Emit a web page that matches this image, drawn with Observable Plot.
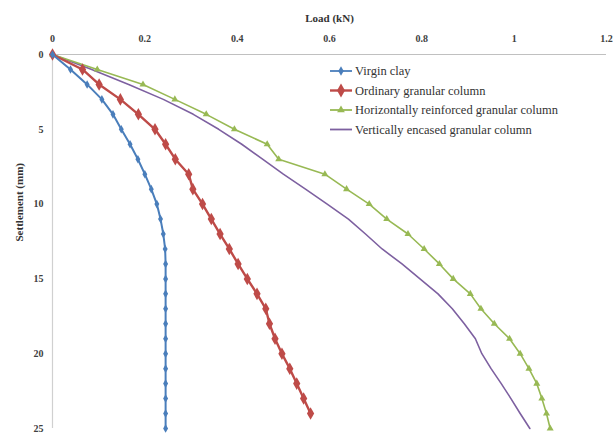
<!DOCTYPE html>
<html><head><meta charset="utf-8">
<script src="https://cdn.jsdelivr.net/npm/d3@7"></script>
<script src="https://cdn.jsdelivr.net/npm/@observablehq/plot@0.6"></script>
<style>body{margin:0;background:#fff} #chart{width:614px;height:434px}</style>
</head><body><div id="chart"></div>
<script>
const seriesNames = ["Virgin clay","Ordinary granular column","Horizontally reinforced granular column","Vertically encased granular column"];
const colors = ["#4a7ebb","#be4b48","#98b954","#7d60a0"];
const settlementA = [0,1,2,3,4,5,6,7,8,9,10,11,12,13,14,15,16,17,18,19,20,21,22,23,24,25];
const settlementB = [0,1,2,3,4,5,6,7,8,9,10,11,12,13,14,15,16,17,18,19,20,21,22,23,24];
const loadVirgin = [0,0.039,0.075,0.107,0.131,0.149,0.168,0.185,0.2,0.214,0.226,0.234,0.24,0.244,0.245,0.245,0.245,0.245,0.245,0.245,0.245,0.245,0.245,0.245,0.245,0.245];
const loadOrdinary = [0,0.065,0.101,0.147,0.186,0.222,0.245,0.266,0.295,0.304,0.325,0.344,0.363,0.383,0.402,0.422,0.443,0.462,0.47,0.482,0.497,0.514,0.529,0.544,0.559];
const loadHorizontal = [0,0.097,0.196,0.265,0.333,0.394,0.465,0.49,0.59,0.637,0.686,0.724,0.77,0.805,0.838,0.868,0.905,0.928,0.957,0.99,1.013,1.032,1.049,1.06,1.07,1.078];
const loadVertical = [0,0.085,0.165,0.24,0.305,0.36,0.41,0.455,0.5,0.548,0.595,0.641,0.678,0.714,0.757,0.796,0.835,0.866,0.892,0.916,0.93,0.95,0.972,0.993,1.013,1.034];
const xTicks = [0,0.2,0.4,0.6,0.8,1,1.2];
const xTickLabels = ["0","0.2","0.4","0.6","0.8","1","1.2"];
const yTicks = [0,5,10,15,20,25];

const mk = (loads, S) => loads.map((v,i)=>({load:v, s:S[i]}));
const virgin = mk(loadVirgin, settlementA);
const ordinary = mk(loadOrdinary, settlementB);
const horizontal = mk(loadHorizontal, settlementA);
const vertical = mk(loadVertical, settlementA);

const font = "'Liberation Serif', 'Times New Roman', serif";
const plot = Plot.plot({
  width: 614, height: 434,
  marginLeft: 52, marginRight: 8, marginTop: 54, marginBottom: 6,
  style: {fontFamily: font, fontSize: "10px", fontWeight: "bold", color: "#404040", background: "#fff"},
  x: {domain:[0,1.2], axis:"top", ticks: xTicks, tickFormat: d => xTickLabels[xTicks.indexOf(d)], tickSize: 0, tickPadding: 13, label: null},
  y: {domain:[0,25], reverse: true, ticks: yTicks, tickSize: 0, tickPadding: 9, label: null},
  marks: [
    Plot.ruleY([0], {stroke:"#c0c0c0", strokeWidth:1.2}),
    Plot.ruleX([0], {stroke:"#d0d0d0", strokeWidth:1.2}),
    Plot.line(vertical, {x:"load", y:"s", stroke: colors[3], strokeWidth: 1.6}),
    Plot.line(horizontal, {x:"load", y:"s", stroke: colors[2], strokeWidth: 1.6}),
    Plot.dot(horizontal, {x:"load", y:"s", symbol:"triangle", r:2.6, fill: colors[2], stroke:"none"}),
    Plot.line(ordinary, {x:"load", y:"s", stroke: colors[1], strokeWidth: 2.4}),
    Plot.dot(ordinary, {x:"load", y:"s", symbol:"diamond", r:3.8, fill: colors[1], stroke:"none"}),
    Plot.line(virgin, {x:"load", y:"s", stroke: colors[0], strokeWidth: 2}),
    Plot.dot(virgin, {x:"load", y:"s", symbol:"diamond", r:2.6, fill: colors[0], stroke:"none"}),
    Plot.text(["Load (kN)"], {frameAnchor:"top", dy:-40, fontSize: 11, fontWeight:"bold", fill:"#333"}),
    Plot.text(["Settlement (mm)"], {frameAnchor:"left", dx:-33, rotate:-90, fontSize: 11, fontWeight:"bold", fill:"#333"})
  ]
});
document.getElementById("chart").appendChild(plot);

// legend
const svg = d3.select(plot);
const lg = svg.append("g").style("font-size", "12.5px").style("font-weight", "normal").attr("text-anchor", "start").attr("fill", "#333");
const symbols = [d3.symbolDiamond, d3.symbolDiamond, d3.symbolTriangle, null];
const sizes = [26, 55, 26, 0];
const rowY = [71, 90.5, 110, 129.5];
seriesNames.forEach((name, i) => {
  const y = rowY[i];
  lg.append("line").attr("x1", 330).attr("x2", 352).attr("y1", y).attr("y2", y).attr("stroke", colors[i]).attr("stroke-width", i===1?2.4:1.8);
  if (symbols[i]) lg.append("path").attr("d", d3.symbol(symbols[i], sizes[i])()).attr("transform", `translate(341,${y})`).attr("fill", colors[i]);
  lg.append("text").attr("x", 355).attr("y", y).attr("dy", "0.35em").attr("text-anchor", "start").text(name);
});
svg.selectAll("text").style("font-family", font);
</script></body></html>
